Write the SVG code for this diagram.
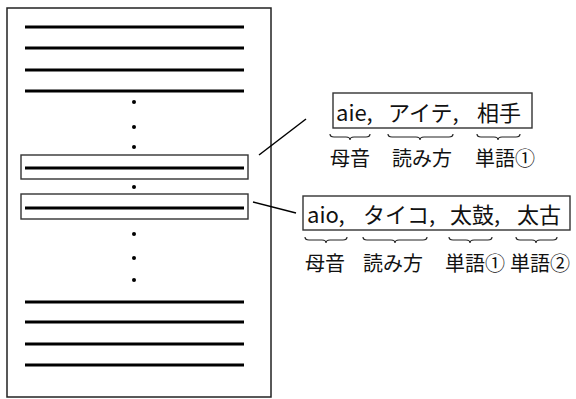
<svg xmlns="http://www.w3.org/2000/svg" width="576" height="399" viewBox="0 0 576 399">
<style>
.bar{stroke:#000;stroke-width:3.2;fill:none}
.frame{fill:#fff;stroke:#222;stroke-width:1.5}
.box{fill:none;stroke:#333;stroke-width:1.4}
.dot{fill:#000}
.t{font-family:"Noto Sans CJK JP","Noto Sans",sans-serif;font-size:22px;fill:#111}
.l{font-family:"Noto Sans CJK JP","Noto Sans",sans-serif;font-size:20px;fill:#111}
.brace{fill:none;stroke:#222;stroke-width:1.2}
.conn{stroke:#000;stroke-width:1.5;fill:none}
</style>
<rect width="576" height="399" fill="#fff"/>
<g id="document">
<rect class="frame" x="7" y="8" width="264" height="389"/>
<line class="bar" x1="25" y1="27" x2="244" y2="27"/>
<line class="bar" x1="25" y1="48" x2="244" y2="48"/>
<line class="bar" x1="25" y1="70" x2="244" y2="70"/>
<line class="bar" x1="25" y1="91" x2="244" y2="91"/>
<circle class="dot" cx="134" cy="102" r="2"/>
<circle class="dot" cx="134" cy="127" r="2"/>
<circle class="dot" cx="134" cy="147" r="2"/>
<circle class="dot" cx="134" cy="187" r="2"/>
<circle class="dot" cx="134" cy="234" r="2"/>
<circle class="dot" cx="134" cy="258" r="2"/>
<circle class="dot" cx="134" cy="280" r="2"/>
<line class="bar" x1="25" y1="302" x2="244" y2="302"/>
<line class="bar" x1="25" y1="322" x2="244" y2="322"/>
<line class="bar" x1="25" y1="344" x2="244" y2="344"/>
<line class="bar" x1="25" y1="365" x2="244" y2="365"/>
</g>
<g id="row1">
<rect class="box" x="21" y="155" width="227" height="24"/>
<line class="bar" x1="25" y1="168" x2="244" y2="168"/>
</g>
<g id="row2">
<rect class="box" x="21" y="194" width="227" height="25"/>
<line class="bar" x1="25" y1="208" x2="244" y2="208"/>
</g>
<g id="connectors">
<line class="conn" x1="259" y1="155" x2="306" y2="119"/>
<line class="conn" x1="253" y1="202" x2="296" y2="213"/>
</g>
<g id="entry1">
<rect class="box" x="333" y="93" width="199" height="35"/>
<text class="t" x="336" y="121">aie,</text>
<text class="t" x="388" y="121">アイテ,</text>
<text class="t" x="477" y="121">相手</text>
<path class="brace" d="M330 134 Q330 137 334 137 L346 137 Q350 137 350 140 Q350 137 354 137 L366 137 Q370 137 370 134"/>
<path class="brace" d="M388 134 Q388 137 392 137 L416 137 Q420 137 420 140 Q420 137 424 137 L449 137 Q453 137 453 134"/>
<path class="brace" d="M477 134 Q477 137 481 137 L494 137 Q498 137 498 140 Q498 137 502 137 L516 137 Q520 137 520 134"/>
<text class="l" x="330" y="166">母音</text>
<text class="l" x="392" y="166">読み方</text>
<text class="l" x="475" y="166">単語①</text>
</g>
<g id="entry2">
<rect class="box" x="303" y="196" width="267" height="34"/>
<text class="t" x="307" y="223">aio,</text>
<text class="t" x="363" y="223">タイコ,</text>
<text class="t" x="450" y="223">太鼓,</text>
<text class="t" x="517" y="223">太古</text>
<path class="brace" d="M305 237 Q305 240 309 240 L322 240 Q326 240 326 243 Q326 240 330 240 L343 240 Q347 240 347 237"/>
<path class="brace" d="M363 237 Q363 240 367 240 L391 240 Q395 240 395 243 Q395 240 399 240 L423 240 Q427 240 427 237"/>
<path class="brace" d="M449 237 Q449 240 453 240 L466 240 Q470 240 470 243 Q470 240 474 240 L488 240 Q492 240 492 237"/>
<path class="brace" d="M516 237 Q516 240 520 240 L532 240 Q536 240 536 243 Q536 240 540 240 L553 240 Q557 240 557 237"/>
<text class="l" x="305" y="271">母音</text>
<text class="l" x="363" y="271">読み方</text>
<text class="l" x="445" y="271">単語①</text>
<text class="l" x="510" y="271">単語②</text>
</g>
</svg>
